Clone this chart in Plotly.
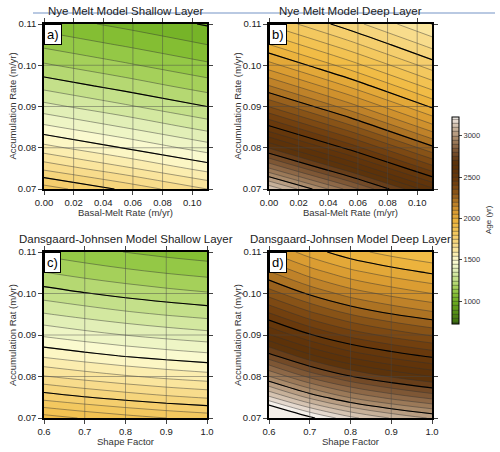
import plotly.graph_objects as go

W, H = 500, 452

# ---------------- data ----------------
acc = [0.07, 0.075, 0.08, 0.085, 0.09, 0.095, 0.10, 0.105, 0.11]
melt = [0.0, 0.055, 0.11]
shape = [0.6, 0.7, 0.8, 0.9, 1.0]

nye_shallow = [
    [1826, 1738, 1650],
    [1688, 1609, 1530],
    [1568, 1496, 1425],
    [1462, 1397, 1332],
    [1367, 1308, 1250],
    [1283, 1229, 1176],
    [1207, 1158, 1110],
    [1138, 1094, 1050],
    [1076, 1036, 995],
]
nye_deep = [
    [3141, 2876, 2611],
    [2903, 2664, 2425],
    [2695, 2479, 2263],
    [2511, 2315, 2119],
    [2348, 2170, 1992],
    [2202, 2040, 1878],
    [2070, 1922, 1775],
    [1951, 1816, 1682],
    [1843, 1720, 1598],
]
dj_shallow = [
    [1923, 1895, 1871, 1850, 1833],
    [1779, 1753, 1730, 1710, 1694],
    [1653, 1628, 1606, 1587, 1572],
    [1541, 1517, 1496, 1479, 1464],
    [1442, 1419, 1399, 1382, 1368],
    [1354, 1332, 1312, 1296, 1282],
    [1274, 1253, 1234, 1218, 1205],
    [1202, 1181, 1163, 1148, 1135],
    [1136, 1116, 1099, 1084, 1072],
]
dj_deep = [
    [3398, 3263, 3164, 3096, 3043],
    [3160, 3036, 2944, 2882, 2833],
    [2952, 2837, 2753, 2695, 2650],
    [2768, 2662, 2583, 2530, 2488],
    [2605, 2506, 2433, 2383, 2344],
    [2459, 2367, 2299, 2252, 2216],
    [2327, 2241, 2177, 2134, 2100],
    [2208, 2127, 2067, 2027, 1995],
    [2100, 2024, 1968, 1930, 1900],
]

melt_ticks = [0.0, 0.02, 0.04, 0.06, 0.08, 0.10]
shape_ticks = [0.6, 0.7, 0.8, 0.9, 1.0]
acc_ticks = [0.07, 0.08, 0.09, 0.10, 0.11]
cbar_ticks = [1000, 1500, 2000, 2500, 3000]

titles = ["Nye Melt Model Shallow Layer", "Nye Melt Model Deep Layer",
          "Dansgaard-Johnsen Model Shallow Layer", "Dansgaard-Johnsen Model Deep Layer"]
xtitles = ["Basal-Melt Rate (m/yr)", "Basal-Melt Rate (m/yr)", "Shape Factor", "Shape Factor"]
ytitles = ["Accumulation Rate (m/yr)", "Accumulation Rate (m/yr)",
           "Accumulation Rat (m/yr)", "Accumulation Rat (m/yr)"]
labels = ["a)", "b)", "c)", "d)"]

cmin, cmax = 750, 3200
stops = [
    (750, "#3a6a0c"), (1000, "#6aaa1e"), (1100, "#86c035"), (1200, "#a8d25e"),
    (1300, "#c8e28f"), (1400, "#e6f1bd"), (1500, "#fdfcd2"), (1600, "#fbeaa8"),
    (1700, "#f7d985"), (1800, "#f4cb66"), (1950, "#f0b940"), (2100, "#d6972f"),
    (2200, "#b57a26"), (2300, "#8c5619"), (2450, "#6a3a0c"), (2650, "#5a3008"),
    (2800, "#7c5432"), (2950, "#a88868"), (3100, "#d4c2b0"), (3200, "#f5f0ea"),
]
colorscale = [[(v - cmin) / (cmax - cmin), c] for v, c in stops]

FONT = "Liberation Sans, Arial, Helvetica, sans-serif"

# ---------------- layout geometry (pixels) ----------------
panels = [
    dict(x0=44, x1=207, y0=24, y1=189),
    dict(x0=269, x1=432, y0=24, y1=189),
    dict(x0=44, x1=207, y0=252, y1=418),
    dict(x0=269, x1=432, y0=252, y1=418),
]
def px(x):
    return x / W
def py(y):
    return 1 - y / H

fig = go.Figure()
datasets = [(melt, nye_shallow), (melt, nye_deep), (shape, dj_shallow), (shape, dj_deep)]

annotations = []
shapes = []
for i, ((xs, zz), p) in enumerate(zip(datasets, panels)):
    k = "" if i == 0 else str(i + 1)
    xa, ya = "x" + k, "y" + k
    fig.add_trace(go.Contour(
        x=xs, y=acc, z=zz, xaxis=xa, yaxis=ya, coloraxis="coloraxis",
        contours=dict(start=cmin, end=cmax, size=50, coloring="fill", showlines=True),
        line=dict(width=0.6, color="rgba(50,50,50,0.75)", smoothing=1),
        hoverinfo="skip"))
    fig.add_trace(go.Contour(
        x=xs, y=acc, z=zz, xaxis=xa, yaxis=ya, showscale=False,
        contours=dict(start=750, end=3500, size=250, coloring="none", showlines=True),
        line=dict(width=1.1, color="black", smoothing=1),
        hoverinfo="skip"))
    ticksx = melt_ticks if i < 2 else shape_ticks
    fmt = ".2f" if i < 2 else ".1f"
    axx = dict(domain=[px(p["x0"]), px(p["x1"])], anchor=ya, range=[xs[0], xs[-1]],
               tickvals=ticksx, tickformat=fmt, ticks="outside", ticklen=4, tickwidth=1,
               tickcolor="#444", showgrid=False, zeroline=False, showline=True,
               linewidth=1.5, linecolor="black", mirror="ticks", ticklabelstandoff=0,
               tickfont=dict(family=FONT, size=9.5, color="#222"))
    axy = dict(domain=[py(p["y1"]), py(p["y0"])], anchor=xa, range=[acc[0], acc[-1]],
               tickvals=acc_ticks, tickformat=".2f", ticks="outside", ticklen=4, tickwidth=1,
               tickcolor="#444", showgrid=False, zeroline=False, showline=True,
               linewidth=1.5, linecolor="black", mirror="ticks",
               tickfont=dict(family=FONT, size=9.5, color="#222"))
    fig.layout["xaxis" + k] = axx
    fig.layout["yaxis" + k] = axy
    # grid lines above the fill
    for t in ticksx[1:]:
        if t < xs[-1]:
            shapes.append(dict(type="line", xref=xa, yref=ya + " domain", x0=t, x1=t, y0=0, y1=1,
                               line=dict(color="rgba(70,70,70,0.45)", width=1), layer="above"))
    for t in acc_ticks[1:-1]:
        shapes.append(dict(type="line", xref=xa + " domain", yref=ya, x0=0, x1=1, y0=t, y1=t,
                           line=dict(color="rgba(70,70,70,0.45)", width=1), layer="above"))
    cx = (p["x0"] + p["x1"]) / 2
    cy = (p["y0"] + p["y1"]) / 2
    annotations.append(dict(text=titles[i], x=px(cx), y=py(p["y0"] - 13), xref="paper", yref="paper",
                            xanchor="center", yanchor="middle", showarrow=False,
                            font=dict(family=FONT, size=11.5, color="#222")))
    annotations.append(dict(text=xtitles[i], x=px(cx), y=py(p["y1"] + 23), xref="paper", yref="paper",
                            xanchor="center", yanchor="middle", showarrow=False,
                            font=dict(family=FONT, size=9.5, color="#333")))
    annotations.append(dict(text=ytitles[i], x=px(p["x0"] - 32), y=py(cy), xref="paper", yref="paper",
                            xanchor="center", yanchor="middle", showarrow=False, textangle=-90,
                            font=dict(family=FONT, size=9.5, color="#333")))
    annotations.append(dict(text=labels[i], x=0, y=1, xref=xa + " domain", yref=ya + " domain",
                            xanchor="left", yanchor="top", showarrow=False, bgcolor="white",
                            bordercolor="black", borderwidth=1, borderpad=2,
                            font=dict(family=FONT, size=13, color="black")))

# light blue header rule
shapes.append(dict(type="line", xref="paper", yref="paper", x0=px(33), x1=px(495),
                   y0=py(13), y1=py(13), line=dict(color="#b9c9e2", width=2), layer="below"))

annotations.append(dict(text="Age (yr)", x=px(488), y=py(220), xref="paper", yref="paper",
                        xanchor="center", yanchor="middle", showarrow=False, textangle=-90,
                        font=dict(family=FONT, size=8, color="#333")))

fig.update_layout(
    width=W, height=H, margin=dict(l=0, r=0, t=0, b=0, autoexpand=False),
    paper_bgcolor="white", plot_bgcolor="white",
    coloraxis=dict(colorscale=colorscale, cmin=cmin, cmax=cmax,
                   colorbar=dict(x=px(452), xanchor="left", xpad=0, thickness=7,
                                 lenmode="pixels", len=207, y=py(220.5), yanchor="middle", ypad=0,
                                 tickvals=cbar_ticks, ticks="outside", ticklen=3, tickcolor="#444",
                                 tickfont=dict(family=FONT, size=7.5, color="#333"),
                                 outlinewidth=1, outlinecolor="black")),
    annotations=annotations, shapes=shapes, showlegend=False,
)

fig.write_html("out.html")
